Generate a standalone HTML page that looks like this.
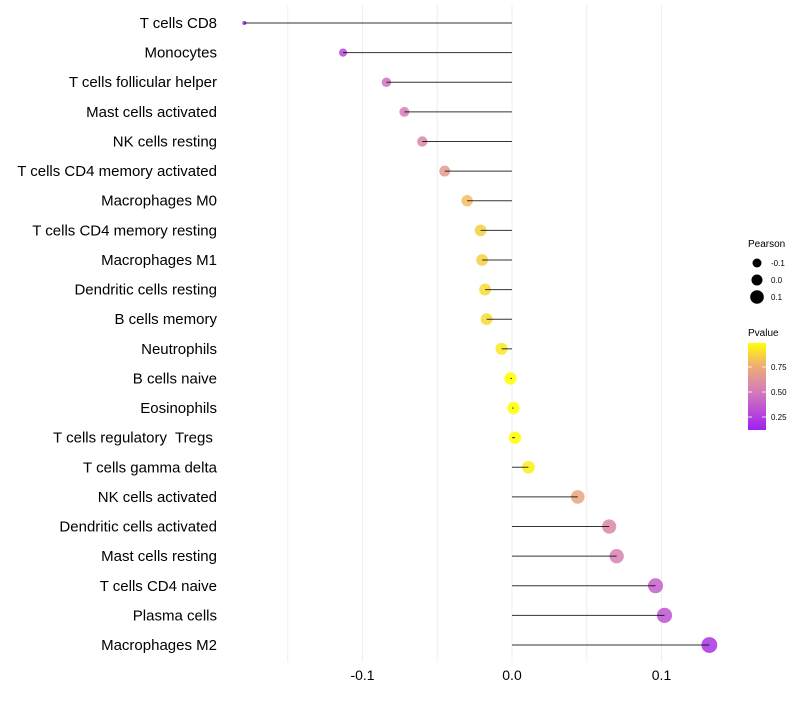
<!DOCTYPE html>
<html><head><meta charset="utf-8"><style>
body{margin:0;background:#fff;font-family:"Liberation Sans",Arial,sans-serif}
svg text{font-family:"Liberation Sans",Arial,sans-serif;white-space:pre}
</style></head><body>
<svg width="800" height="700" xmlns="http://www.w3.org/2000/svg">
<defs><linearGradient id="pg" x1="0" y1="1" x2="0" y2="0">
<stop offset="0" stop-color="#A020F0"/><stop offset="0.45" stop-color="#D67CB8"/><stop offset="0.75" stop-color="#F0B070"/><stop offset="1" stop-color="#FFFF00"/></linearGradient></defs>
<g id="grid"></g><g id="marks"></g><g id="labels"></g>
<g>
<text x="748" y="247" font-size="10">Pearson</text>
<g id="sizeleg"></g>
<text x="748" y="336" font-size="10">Pvalue</text>
<rect x="748" y="343" width="18" height="87" fill="url(#pg)"/>
<g id="cbticks"></g>
</g>
</svg>
<script>
const cells=["T cells CD8","Monocytes","T cells follicular helper","Mast cells activated","NK cells resting","T cells CD4 memory activated","Macrophages M0","T cells CD4 memory resting","Macrophages M1","Dendritic cells resting","B cells memory","Neutrophils","B cells naive","Eosinophils","T cells regulatory  Tregs ","T cells gamma delta","NK cells activated","Dendritic cells activated","Mast cells resting","T cells CD4 naive","Plasma cells","Macrophages M2"];
const pearson=[-0.179,-0.113,-0.084,-0.072,-0.060,-0.045,-0.030,-0.021,-0.020,-0.018,-0.017,-0.007,-0.001,0.001,0.002,0.011,0.044,0.065,0.070,0.096,0.102,0.132];
const pvalue=[0.10,0.28,0.45,0.50,0.55,0.65,0.80,0.85,0.85,0.88,0.88,0.92,0.99,0.99,0.99,0.94,0.70,0.55,0.52,0.38,0.33,0.20];
const xTicks=[-0.1,0.0,0.1];
const xTickLabels=["-0.1","0.0","0.1"];
const xGrid=[-0.15,-0.1,-0.05,0,0.05,0.1];
const NS="http://www.w3.org/2000/svg";
const X=v=>512+v*1495;
const Y=i=>23+i*29.62;
const R=v=>Math.sqrt(Math.max(4,4+190*(v+0.18)));
function lerp(a,b,t){return a.map((x,i)=>Math.round(x+(b[i]-x)*t));}
const stops=[[0.12,[160,32,240]],[0.5,[214,124,184]],[0.76,[240,176,112]],[0.99,[255,255,0]]];
function col(p){p=Math.max(0.12,Math.min(0.99,p));for(let i=0;i<stops.length-1;i++){if(p<=stops[i+1][0]){const t=(p-stops[i][0])/(stops[i+1][0]-stops[i][0]);return "rgb("+lerp(stops[i][1],stops[i+1][1],t).join(",")+")";}}return "rgb(255,255,0)";}
function mk(tag,attrs,parent){const e=document.createElementNS(NS,tag);for(const k in attrs)e.setAttribute(k,attrs[k]);parent.appendChild(e);return e;}
const grid=document.getElementById('grid'),marks=document.getElementById('marks'),labels=document.getElementById('labels');
xGrid.forEach(v=>{const l=mk('line',{x1:X(v),x2:X(v),y1:5,y2:662,stroke:'#efefef','stroke-width':1},grid);

});
cells.forEach((c,i)=>{
const y=Y(i);
const t=mk('text',{x:217,y:y+5,'font-size':15,'text-anchor':'end',fill:'#000'},labels);t.textContent=c;


const p=mk('circle',{cx:X(pearson[i]),cy:y,r:R(pearson[i]),fill:col(pvalue[i]),'fill-opacity':0.85},marks);


const s=mk('line',{x1:X(0),x2:X(pearson[i]),y1:y,y2:y,stroke:'#000','stroke-width':1,'stroke-opacity':0.8},marks);


});
xTicks.forEach((v,i)=>{const t=mk('text',{x:X(v),y:680,'font-size':14,'text-anchor':'middle'},labels);t.textContent=xTickLabels[i];

});
const sl=document.getElementById('sizeleg');
[-0.1,0,0.1].forEach((v,i)=>{const y=263+i*17;
const c=mk('circle',{cx:757,cy:y,r:[4.5,5.5,6.8][i],fill:'#000'},sl);


const t=mk('text',{x:771,y:y+3,'font-size':8},sl);t.textContent=["-0.1","0.0","0.1"][i];

});
const cb=document.getElementById('cbticks');
[0.75,0.5,0.25].forEach(v=>{const y=343+(0.99-v)*100;
mk('line',{x1:748,x2:752,y1:y,y2:y,stroke:'#fff','stroke-width':0.8},cb);
mk('line',{x1:762,x2:766,y1:y,y2:y,stroke:'#fff','stroke-width':0.8},cb);
const t=mk('text',{x:771,y:y+3,'font-size':8},cb);t.textContent=v.toFixed(2);

});
</script>
</body></html>
